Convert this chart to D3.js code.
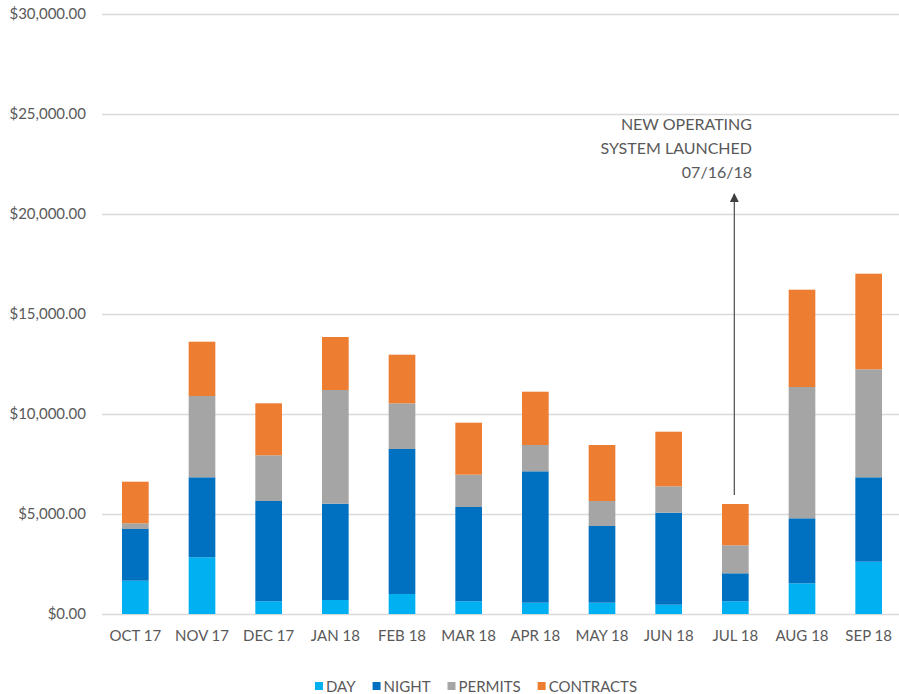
<!DOCTYPE html>
<html>
<head>
<meta charset="utf-8">
<script src="https://d3js.org/d3.v7.min.js"></script>
<style>
  body { margin: 0; background: #fff; }
  text { font-family: Lato, "Open Sans", sans-serif; fill: #595959; }
</style>
</head>
<body>
<div id="chart"></div>
<script>
// Data
var months = ["OCT 17", "NOV 17", "DEC 17", "JAN 18", "FEB 18", "MAR 18",
              "APR 18", "MAY 18", "JUN 18", "JUL 18", "AUG 18", "SEP 18"];
var day       = [1665, 2835,  635,  700, 1000,  635,  565,  565,  465,  635, 1535, 2615];
var night     = [2585, 4000, 5015, 4815, 7250, 4715, 6570, 3835, 4600, 1400, 3250, 4220];
var permits   = [ 285, 4065, 2285, 5685, 2285, 1615, 1315, 1250, 1320, 1400, 6565, 5400];
var contracts = [2080, 2715, 2600, 2650, 2430, 2600, 2665, 2800, 2730, 2065, 4865, 4780];
var seriesNames = ["DAY", "NIGHT", "PERMITS", "CONTRACTS"];
var seriesColors = ["#00b0f0", "#0070c0", "#a5a5a5", "#ed7d31"];
var yTicks = [0, 5000, 10000, 15000, 20000, 25000, 30000];
var noteLines = ["NEW OPERATING", "SYSTEM LAUNCHED", "07/16/18"];
var noteMonth = "JUL 18";

var W = 899, H = 694;
var margin = {top: 14, left: 102, right: -3, bottom: 80};

var svg = d3.select("#chart").append("svg")
  .attr("width", W).attr("height", H);

// build table for stacking
var table = months.map(function(m, i) {
  return {month: m, DAY: day[i], NIGHT: night[i], PERMITS: permits[i], CONTRACTS: contracts[i]};
});
var stacked = d3.stack().keys(seriesNames)(table);

var x = d3.scaleBand()
  .domain(months)
  .range([margin.left, W - margin.right])
  .paddingInner(0.6).paddingOuter(0.3);

var y = d3.scaleLinear()
  .domain([0, 30000])
  .range([H - margin.bottom, margin.top]);

var colour = d3.scaleOrdinal().domain(seriesNames).range(seriesColors);

// gridlines
svg.append("g").selectAll("line")
  .data(yTicks)
  .enter().append("line")
  .attr("x1", margin.left).attr("x2", W)
  .attr("y1", function(d) { return Math.round(y(d)) + 0.5; })
  .attr("y2", function(d) { return Math.round(y(d)) + 0.5; })
  .attr("stroke", "#d9d9d9")
  .attr("stroke-width", 1.3);

// y axis labels
var fmt = d3.format("$,.2f");
svg.append("g").selectAll("text")
  .data(yTicks)
  .enter().append("text")
  .attr("x", 86)
  .attr("y", function(d) { return y(d); })
  .attr("dy", "0.35em")
  .attr("text-anchor", "end")
  .style("font-size", "15px")
  .text(function(d) { return fmt(d); });

// bars
svg.append("g").selectAll("g")
  .data(stacked)
  .enter().append("g")
  .attr("fill", function(d) { return colour(d.key); })
  .selectAll("rect")
  .data(function(d) { return d; })
  .enter().append("rect")
  .attr("x", function(d) { return x(d.data.month); })
  .attr("width", x.bandwidth())
  .attr("y", function(d) { return y(d[1]); })
  .attr("height", function(d) { return y(d[0]) - y(d[1]); });

// x axis labels
svg.append("g").selectAll("text")
  .data(months)
  .enter().append("text")
  .attr("x", function(d) { return x(d) + x.bandwidth() / 2; })
  .attr("y", 641)
  .attr("text-anchor", "middle")
  .style("font-size", "15px")
  .text(function(d) { return d; });

// annotation arrow
var ax = x(noteMonth) + x.bandwidth() / 2 - 1;
svg.append("defs").append("marker")
  .attr("id", "arrowhead")
  .attr("viewBox", "0 0 10 10")
  .attr("refX", 9).attr("refY", 5)
  .attr("markerWidth", 7).attr("markerHeight", 7)
  .attr("orient", "auto")
  .append("path")
  .attr("d", "M0,0 L10,5 L0,10 Z")
  .attr("fill", "#404040");

svg.append("line")
  .attr("x1", ax).attr("x2", ax)
  .attr("y1", y(5950)).attr("y2", y(21000))
  .attr("stroke", "#595959")
  .attr("stroke-width", 1.3)
  .attr("marker-end", "url(#arrowhead)");

svg.append("g").selectAll("text")
  .data(noteLines)
  .enter().append("text")
  .attr("x", 752)
  .attr("y", function(d, i) { return 130 + i * 24; })
  .attr("text-anchor", "end")
  .style("font-size", "16px")
  .text(function(d) { return d; });

// legend
var legend = svg.append("g");
var items = legend.selectAll("g")
  .data(seriesNames)
  .enter().append("g");
items.append("rect")
  .attr("width", 8).attr("height", 8)
  .attr("y", 682)
  .attr("fill", function(d) { return colour(d); });
items.append("text")
  .attr("x", 11)
  .attr("y", 692)
  .style("font-size", "15px")
  .text(function(d) { return d; });

var pos = 0;
items.each(function() {
  var g = d3.select(this);
  g.attr("transform", "translate(" + pos + ",0)");
  pos += 11 + g.select("text").node().getComputedTextLength() + 17;
});
var total = pos - 17;
legend.attr("transform", "translate(" + (476 - total / 2) + ",0)");
</script>
</body>
</html>
